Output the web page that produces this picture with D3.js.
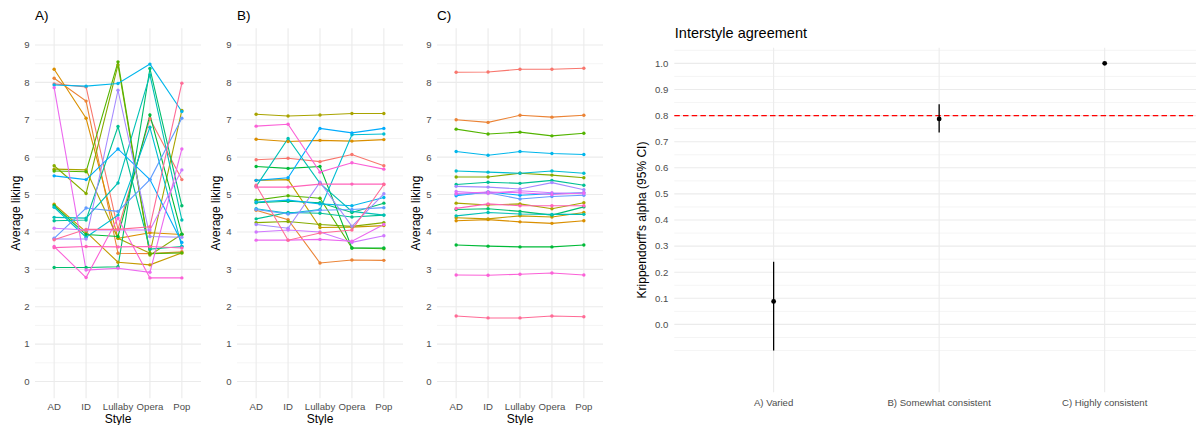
<!DOCTYPE html>
<html>
<head>
<meta charset="utf-8">
<script src="https://cdn.jsdelivr.net/npm/d3@7"></script>
<style>
  body { margin: 0; background: #fff; }
  text { font-family: "Liberation Sans", Arial, sans-serif; }
</style>
</head>
<body>
<svg id="chart"></svg>
<script>
// styles on the x axis of the three liking panels
const styles = ['AD', 'ID', 'Lullaby', 'Opera', 'Pop'];
const likingTicks = [0, 1, 2, 3, 4, 5, 6, 7, 8, 9];

// average liking per participant (index = participant colour) for AD, ID, Lullaby, Opera, Pop
const likingA = [
    [7.96, 7.88, 4.07, 7.03, 5.40],
    [8.11, 7.50, 3.43, 3.42, 3.47],
    [8.35, 7.04, 3.83, 3.98, 3.93],
    [4.74, 4.00, 3.19, 3.12, 3.44],
    [5.68, 5.66, 3.83, 3.43, 7.25],
    [5.77, 5.03, 8.47, 3.38, 3.94],
    [5.63, 5.61, 8.55, 3.42, 3.44],
    [4.70, 3.93, 3.88, 7.13, 3.94],
    [3.05, 3.05, 3.07, 8.37, 4.70],
    [4.30, 4.32, 6.82, 3.54, 3.61],
    [4.39, 4.37, 5.31, 8.20, 4.32],
    [4.66, 3.86, 4.45, 6.80, 3.61],
    [7.93, 7.90, 7.97, 8.49, 7.22],
    [5.50, 5.40, 6.22, 5.40, 3.72],
    [3.83, 4.64, 4.55, 5.40, 7.04],
    [3.81, 3.81, 7.79, 3.88, 3.86],
    [4.10, 4.05, 4.05, 4.05, 5.66],
    [7.86, 2.98, 3.03, 2.92, 6.22],
    [3.61, 2.78, 4.37, 2.77, 2.77],
    [3.58, 3.61, 3.60, 3.61, 3.57],
    [3.79, 4.07, 4.07, 4.14, 7.98]
];

const likingB = [
    [5.93, 5.97, 5.88, 6.07, 5.77],
    [4.58, 4.33, 3.17, 3.25, 3.24],
    [6.48, 6.42, 6.45, 6.43, 6.47],
    [5.38, 5.40, 4.12, 4.13, 4.17],
    [7.15, 7.10, 7.13, 7.17, 7.17],
    [4.25, 4.28, 4.20, 4.15, 4.25],
    [4.85, 4.97, 4.90, 3.57, 3.55],
    [5.75, 5.70, 5.75, 3.57, 3.57],
    [4.78, 4.82, 4.78, 4.52, 4.77],
    [4.35, 4.52, 4.50, 4.40, 4.45],
    [5.22, 6.50, 5.30, 4.55, 4.45],
    [4.62, 4.50, 4.60, 6.60, 6.62],
    [4.80, 4.85, 4.75, 4.70, 4.92],
    [5.38, 5.45, 6.77, 6.65, 6.77],
    [4.60, 4.48, 4.58, 4.60, 4.65],
    [4.20, 4.10, 5.33, 4.15, 5.02],
    [4.00, 4.05, 4.00, 3.72, 3.90],
    [3.78, 3.78, 3.80, 3.75, 4.20],
    [6.83, 6.88, 5.60, 5.85, 5.68],
    [5.20, 5.20, 5.28, 5.28, 5.28],
    [5.25, 3.78, 3.97, 4.05, 5.27]
];

const likingC = [
    [8.27, 8.28, 8.35, 8.35, 8.38],
    [7.00, 6.93, 7.12, 7.07, 7.12],
    [4.30, 4.33, 4.27, 4.23, 4.30],
    [4.38, 4.35, 4.43, 4.40, 4.52],
    [4.77, 4.72, 4.75, 4.62, 4.78],
    [5.47, 5.47, 5.57, 5.52, 5.45],
    [6.75, 6.62, 6.67, 6.57, 6.64],
    [3.65, 3.62, 3.60, 3.60, 3.65],
    [4.60, 4.62, 4.55, 4.45, 4.67],
    [5.27, 5.33, 5.30, 5.38, 5.25],
    [4.43, 4.52, 4.48, 4.47, 4.47],
    [5.63, 5.60, 5.57, 5.63, 5.57],
    [6.15, 6.05, 6.15, 6.10, 6.07],
    [4.97, 5.07, 4.98, 5.02, 5.05],
    [5.00, 5.05, 4.88, 4.95, 4.98],
    [5.22, 5.20, 5.15, 5.32, 5.13],
    [5.08, 5.03, 5.10, 5.05, 5.02],
    [5.03, 5.07, 5.05, 5.00, 5.05],
    [2.85, 2.84, 2.87, 2.90, 2.85],
    [4.63, 4.75, 4.70, 4.70, 4.70],
    [1.75, 1.70, 1.70, 1.75, 1.73]
];

// interstyle agreement (Krippendorff's alpha with 95% CI)
const groups = ['A) Varied', 'B) Somewhat consistent', 'C) Highly consistent'];
const alphaEst = [0.088, 0.787, 1.0];
const alphaLow = [-0.10, 0.735, 1.0];
const alphaHigh = [0.24, 0.843, 1.0];
const alphaTicks = [0.0, 0.1, 0.2, 0.3, 0.4, 0.5, 0.6, 0.7, 0.8, 0.9, 1.0];
const alphaRef = 0.8;

const W = 1196, H = 425;
const grid = '#EBEBEB';
const tickCol = '#4D4D4D';

const svg = d3.select('#chart').attr('width', W).attr('height', H);
svg.append('rect').attr('width', W).attr('height', H).attr('fill', '#fff');

// ggplot-like hue palette (polar LUV, l = 65, c = 100)
function hclLuv(h, c, l) {
    const hr = h * Math.PI / 180;
    const U = c * Math.cos(hr), V = c * Math.sin(hr);
    const Xn = 95.047, Yn = 100, Zn = 108.883;
    const Y = Yn * (l > 7.999592 ? Math.pow((l + 16) / 116, 3) : l / 903.3);
    const t = Xn + Yn + Zn, x = Xn / t, y = Yn / t;
    const uN = 2 * x / (6 * y - x + 1.5), vN = 4.5 * y / (6 * y - x + 1.5);
    const u = U / (13 * l) + uN, v = V / (13 * l) + vN;
    const X = 9 * Y * u / (4 * v);
    const Z = -X / 3 - 5 * Y + 3 * Y / v;
    const g = q => q > 0.00304 ? 1.055 * Math.pow(q, 1 / 2.4) - 0.055 : 12.92 * q;
    const r = g((3.240479 * X - 1.537150 * Y - 0.498535 * Z) / Yn);
    const gg = g((-0.969256 * X + 1.875992 * Y + 0.041556 * Z) / Yn);
    const b = g((0.055648 * X - 0.204043 * Y + 1.057311 * Z) / Yn);
    const cl = q => Math.max(0, Math.min(255, Math.round(q * 255)));
    return d3.rgb(cl(r), cl(gg), cl(b)).formatHex();
}
const nPart = likingA.length;
const palette = d3.range(nPart).map(i => hclLuv(15 + i * 360 / nPart, 100, 65));
const color = d3.scaleOrdinal().domain(d3.range(nPart)).range(palette);

// ---- three liking panels ----
const panels = [
    { title: 'A)', data: likingA, left: 35, ytitle: 20 },
    { title: 'B)', data: likingB, left: 237, ytitle: 220 },
    { title: 'C)', data: likingC, left: 437, ytitle: 420 }
];
const pw = 166, pTop = 28.2, pBottom = 398.3;

const y = d3.scaleLinear().domain([-0.45, 9.45]).range([pBottom, pTop]);

panels.forEach(p => {
    const x = d3.scalePoint().domain(styles).range([p.left, p.left + pw]).padding(0.6);
    const g = svg.append('g');

    // minor + major grid
    d3.range(0.5, 9, 1).forEach(v => {
        g.append('line').attr('x1', p.left).attr('x2', p.left + pw)
            .attr('y1', y(v)).attr('y2', y(v))
            .attr('stroke', grid).attr('stroke-width', 0.55);
    });
    likingTicks.forEach(v => {
        g.append('line').attr('x1', p.left).attr('x2', p.left + pw)
            .attr('y1', y(v)).attr('y2', y(v))
            .attr('stroke', grid).attr('stroke-width', 1.1);
    });
    styles.forEach(s => {
        g.append('line').attr('x1', x(s)).attr('x2', x(s))
            .attr('y1', pTop).attr('y2', pBottom)
            .attr('stroke', grid).attr('stroke-width', 1.1);
    });

    // axis labels
    likingTicks.forEach(v => {
        g.append('text').attr('x', p.left - 5.5).attr('y', y(v)).attr('dy', '0.35em')
            .attr('text-anchor', 'end').attr('font-size', 9.6).attr('fill', tickCol)
            .text(v);
    });
    styles.forEach(s => {
        g.append('text').attr('x', x(s)).attr('y', 409.5)
            .attr('text-anchor', 'middle').attr('font-size', 9.6).attr('fill', tickCol)
            .text(s);
    });
    g.append('text').attr('x', p.left + pw / 2).attr('y', 422.5)
        .attr('text-anchor', 'middle').attr('font-size', 12).text('Style');
    g.append('text')
        .attr('transform', `translate(${p.ytitle},${(pTop + pBottom) / 2}) rotate(-90)`)
        .attr('text-anchor', 'middle').attr('font-size', 12).text('Average liking');
    g.append('text').attr('x', p.left).attr('y', 20)
        .attr('font-size', 13.5).text(p.title);

    // participant lines
    const line = d3.line().x((d, i) => x(styles[i])).y(d => y(d));
    p.data.forEach((vals, id) => {
        g.append('path').datum(vals)
            .attr('d', line)
            .attr('fill', 'none')
            .attr('stroke', color(id))
            .attr('stroke-width', 1.1);
    });
    p.data.forEach((vals, id) => {
        g.selectAll(null).data(vals).enter().append('circle')
            .attr('cx', (d, i) => x(styles[i]))
            .attr('cy', d => y(d))
            .attr('r', 1.7)
            .attr('fill', color(id));
    });
});

// ---- agreement panel ----
const aLeft = 674.3, aRight = 1204, aTop = 47.7, aBottom = 392.3;
const ya = d3.scaleLinear().domain([-0.26, 1.06]).range([aBottom, aTop]);
const xa = d3.scalePoint().domain(groups).range([aLeft, aRight]).padding(0.6);
const ga = svg.append('g');

d3.range(-0.1, 1.06, 0.05).forEach(v => {
    const major = alphaTicks.some(t => Math.abs(t - v) < 1e-6);
    ga.append('line').attr('x1', aLeft).attr('x2', aRight)
        .attr('y1', ya(v)).attr('y2', ya(v))
        .attr('stroke', grid).attr('stroke-width', major ? 1.1 : 0.55);
});
groups.forEach(gr => {
    ga.append('line').attr('x1', xa(gr)).attr('x2', xa(gr))
        .attr('y1', aTop).attr('y2', aBottom)
        .attr('stroke', grid).attr('stroke-width', 1.1);
});
alphaTicks.forEach(v => {
    ga.append('text').attr('x', aLeft - 6).attr('y', ya(v)).attr('dy', '0.35em')
        .attr('text-anchor', 'end').attr('font-size', 9.6).attr('fill', tickCol)
        .text(d3.format('.1f')(v));
});
groups.forEach(gr => {
    ga.append('text').attr('x', xa(gr)).attr('y', 405.5)
        .attr('text-anchor', 'middle').attr('font-size', 9.6).attr('fill', tickCol)
        .text(gr);
});
ga.append('text')
    .attr('transform', `translate(646,${(aTop + aBottom) / 2}) rotate(-90)`)
    .attr('text-anchor', 'middle').attr('font-size', 12)
    .text("Krippendorff's alpha (95% CI)");
ga.append('text').attr('x', aLeft + 0.5).attr('y', 37.5)
    .attr('font-size', 14.5).text('Interstyle agreement');

// reference line
ga.append('line').attr('x1', aLeft).attr('x2', aRight)
    .attr('y1', ya(alphaRef)).attr('y2', ya(alphaRef))
    .attr('stroke', '#FF0000').attr('stroke-width', 1.1)
    .attr('stroke-dasharray', '5.5,3.2');

groups.forEach((gr, i) => {
    ga.append('line').attr('x1', xa(gr)).attr('x2', xa(gr))
        .attr('y1', ya(alphaLow[i])).attr('y2', ya(alphaHigh[i]))
        .attr('stroke', '#000').attr('stroke-width', 1.3);
    ga.append('circle').attr('cx', xa(gr)).attr('cy', ya(alphaEst[i]))
        .attr('r', 2.4).attr('fill', '#000');
});
</script>
</body>
</html>
